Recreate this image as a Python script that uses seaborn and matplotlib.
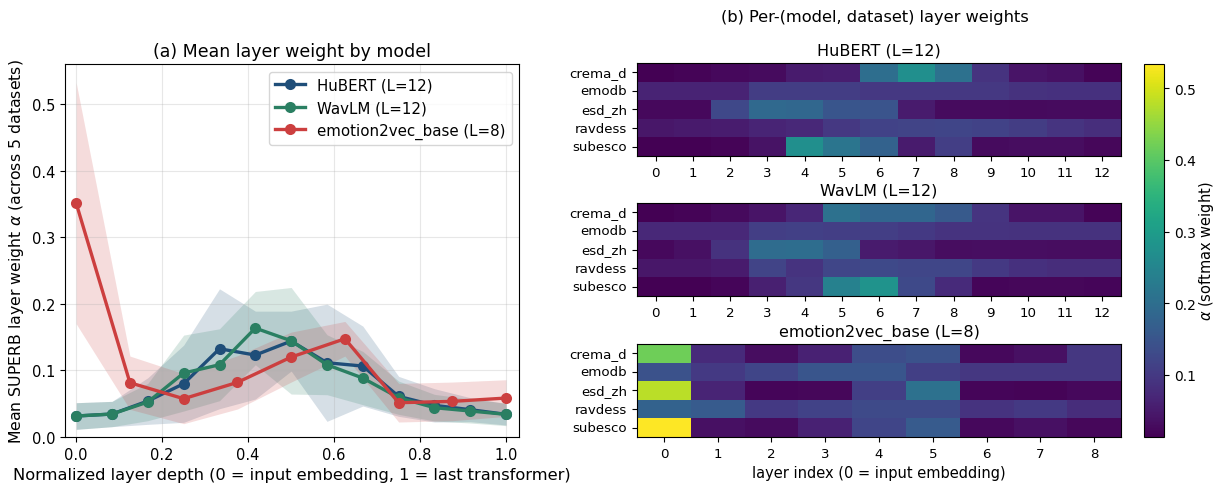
import numpy as np
import pandas as pd
import seaborn as sns
import matplotlib.pyplot as plt

# ---- panel (a): mean layer weight across 5 datasets
hubert_mean = [0.0315, 0.0345, 0.054, 0.080, 0.1325, 0.123, 0.144, 0.1115, 0.1065, 0.061, 0.0475, 0.041, 0.034]
hubert_sd = [0.020, 0.019, 0.035, 0.058, 0.090, 0.066, 0.045, 0.088, 0.060, 0.030, 0.025, 0.018, 0.016]
wavlm_mean = [0.0315, 0.0345, 0.0525, 0.096, 0.1085, 0.1635, 0.1445, 0.1085, 0.0885, 0.059, 0.044, 0.039, 0.034]
wavlm_sd = [0.020, 0.019, 0.028, 0.057, 0.054, 0.055, 0.080, 0.045, 0.040, 0.025, 0.020, 0.018, 0.017]
e2v_mean = [0.351, 0.0815, 0.0575, 0.082, 0.120, 0.1475, 0.0515, 0.0535, 0.0585]
e2v_sd = [0.181, 0.040, 0.0375, 0.040, 0.0375, 0.026, 0.029, 0.029, 0.0275]

models = ["HuBERT (L=12)", "WavLM (L=12)", "emotion2vec_base (L=8)"]
colors = ["#1f4e79", "#2a7f62", "#cc3f3f"]

# ---- panel (b): per-(model, dataset) layer weights
datasets = ["crema_d", "emodb", "esd_zh", "ravdess", "subesco"]
hubert_w = [
    [0.015, 0.018, 0.025, 0.028, 0.050, 0.055, 0.200, 0.270, 0.205, 0.090, 0.040, 0.035, 0.018],
    [0.062, 0.062, 0.062, 0.105, 0.105, 0.105, 0.098, 0.098, 0.098, 0.098, 0.088, 0.085, 0.085],
    [0.025, 0.025, 0.125, 0.190, 0.185, 0.150, 0.148, 0.050, 0.028, 0.028, 0.026, 0.028, 0.028],
    [0.045, 0.048, 0.052, 0.065, 0.072, 0.098, 0.115, 0.118, 0.120, 0.115, 0.105, 0.092, 0.082],
    [0.015, 0.015, 0.018, 0.038, 0.270, 0.215, 0.175, 0.050, 0.108, 0.028, 0.030, 0.030, 0.022],
]
wavlm_w = [
    [0.015, 0.018, 0.026, 0.040, 0.068, 0.205, 0.182, 0.182, 0.158, 0.092, 0.040, 0.040, 0.018],
    [0.072, 0.072, 0.072, 0.108, 0.112, 0.108, 0.108, 0.100, 0.090, 0.090, 0.088, 0.088, 0.088],
    [0.024, 0.034, 0.088, 0.195, 0.198, 0.170, 0.050, 0.044, 0.030, 0.032, 0.032, 0.030, 0.030],
    [0.044, 0.044, 0.050, 0.118, 0.090, 0.122, 0.128, 0.122, 0.122, 0.100, 0.085, 0.080, 0.080],
    [0.015, 0.015, 0.020, 0.058, 0.095, 0.240, 0.280, 0.128, 0.075, 0.020, 0.022, 0.022, 0.020],
]
e2v_w = [
    [0.420, 0.075, 0.030, 0.060, 0.135, 0.145, 0.025, 0.035, 0.095],
    [0.145, 0.100, 0.120, 0.150, 0.150, 0.110, 0.095, 0.095, 0.095],
    [0.480, 0.065, 0.020, 0.022, 0.110, 0.205, 0.020, 0.018, 0.025],
    [0.175, 0.160, 0.100, 0.115, 0.130, 0.130, 0.090, 0.100, 0.080],
    [0.534, 0.035, 0.028, 0.060, 0.120, 0.160, 0.025, 0.035, 0.022],
]
heat_vmin, heat_vmax = 0.013, 0.534

means = [hubert_mean, wavlm_mean, e2v_mean]
sds = [hubert_sd, wavlm_sd, e2v_sd]
weights = [hubert_w, wavlm_w, e2v_w]

rows = []
for name, m in zip(models, means):
    n = len(m) - 1
    for i, v in enumerate(m):
        rows.append({"model": name, "depth": i / n, "alpha": v})
df = pd.DataFrame(rows)

fig = plt.figure(figsize=(12.15, 4.85), dpi=100)
ax = fig.add_axes([0.0535, 0.0969, 0.3737, 0.769])

# shaded band = mean +/- std across datasets
for name, m, s, c in zip(models, means, sds, colors):
    x = np.arange(len(m)) / (len(m) - 1)
    m = np.array(m)
    s = np.array(s)
    ax.fill_between(x, m - s, m + s, color=c, alpha=0.18, linewidth=0)

sns.lineplot(data=df, x="depth", y="alpha", hue="model", hue_order=models,
             palette=colors, marker="o", markersize=8, linewidth=2.4,
             markeredgewidth=0, ax=ax)
ax.set_xlim(-0.026, 1.03)
ax.set_ylim(0, 0.56)
ax.grid(alpha=0.3)
ax.set_title("(a) Mean layer weight by model", fontsize=12.5)
ax.set_xlabel("Normalized layer depth (0 = input embedding, 1 = last transformer)", fontsize=11.7)
ax.set_ylabel(r"Mean SUPERB layer weight $\alpha$ (across 5 datasets)", fontsize=11.3)
ax.tick_params(labelsize=10.5)
ax.legend(title=None, loc="upper right", fontsize=10.8)

# heatmaps
bottoms = [0.6763, 0.3876, 0.0969]
for k, (name, w) in enumerate(zip(models, weights)):
    hax = fig.add_axes([0.5243, bottoms[k], 0.3984, 0.1918])
    sns.heatmap(np.array(w), ax=hax, cmap="viridis", vmin=heat_vmin, vmax=heat_vmax,
                cbar=False, xticklabels=list(range(len(w[0]))), yticklabels=datasets)
    for sp in hax.spines.values():
        sp.set_visible(True)
        sp.set_linewidth(0.8)
    hax.tick_params(labelsize=9.6, length=3.5)
    hax.set_yticklabels(datasets, rotation=0)
    hax.set_xticklabels(list(range(len(w[0]))), rotation=0)
    hax.set_title(name, fontsize=11.5)
    if k == 2:
        hax.set_xlabel("layer index (0 = input embedding)", fontsize=10.5)

cax = fig.add_axes([0.9415, 0.0969, 0.0165, 0.769])
sm = plt.cm.ScalarMappable(cmap="viridis", norm=plt.Normalize(heat_vmin, heat_vmax))
cb = fig.colorbar(sm, cax=cax)
cb.set_label(r"$\alpha$ (softmax weight)", fontsize=10.5, labelpad=1)
cb.ax.tick_params(labelsize=10)

fig.text(0.72, 0.963, "(b) Per-(model, dataset) layer weights", ha="center", va="center", fontsize=11.7)

fig.savefig("out.png", dpi=100)
